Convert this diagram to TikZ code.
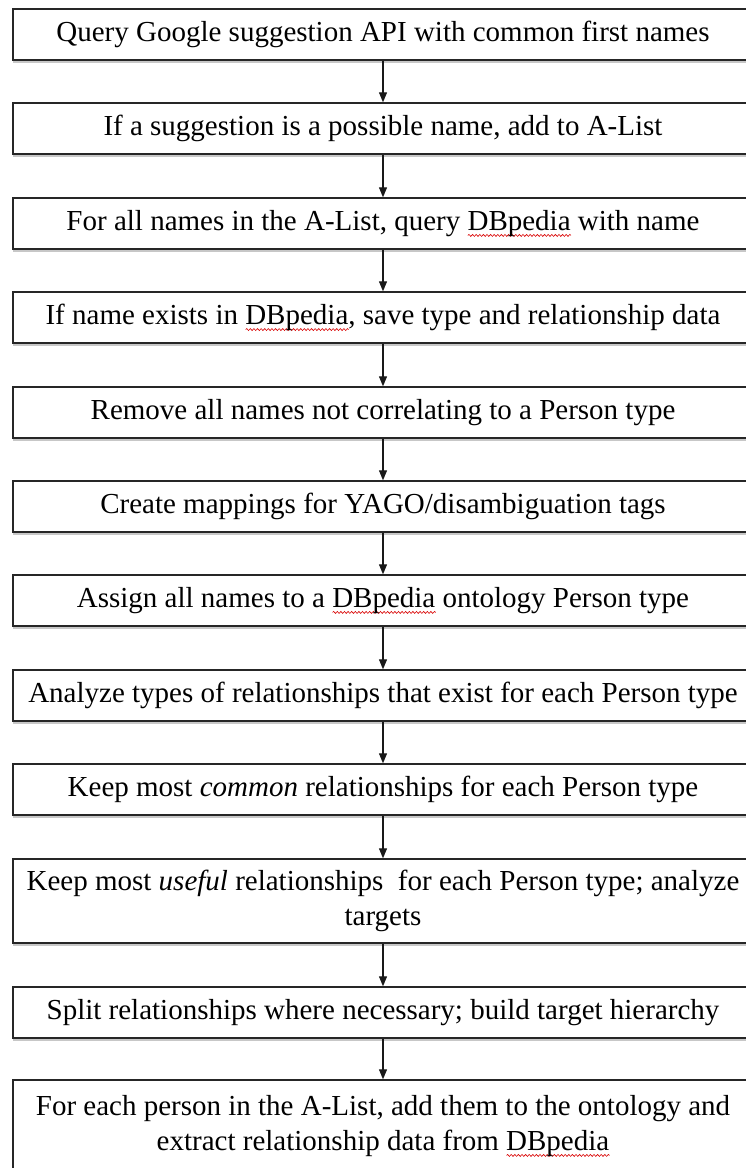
\documentclass[tikz,border=0pt]{standalone}
\usepackage{fontspec}
\setmainfont{Liberation Serif}
\usetikzlibrary{arrows.meta,shadows,decorations.pathmorphing}
\newsavebox\spbox
\newcommand\spellerr[1]{\sbox\spbox{#1}\rlap{\tikz[baseline=0pt]\draw[red!85!black, line width=0.6pt, decorate, decoration={snake, amplitude=1pt, segment length=3.6pt}] (0pt,-5pt) -- (\wd\spbox,-5pt);}\usebox\spbox}
\begin{document}
\begin{tikzpicture}[x=1pt,y=-1pt,
  stepbox/.style={draw=black!85, line width=1.4pt, fill=white, minimum width=740pt,
    inner sep=0pt, align=center, font=\fontsize{29}{35}\selectfont,
    drop shadow={shadow xshift=0pt, shadow yshift=-2.5pt, fill=black!22, opacity=1}},
  flow/.style={draw=black!90, line width=1.2pt, -{Triangle[length=10pt,width=8pt]}}]
\useasboundingbox (0,0) rectangle (746,1168);
\fill[white] (0,0) rectangle (746,1168);
\node[stepbox, minimum height=51pt] (b1) at (383,34.5) {Query Google suggestion API with common first names};
\node[stepbox, minimum height=51pt] (b2) at (383,128.5) {If a suggestion is a possible name, add to A-List};
\node[stepbox, minimum height=51pt] (b3) at (383,223.5) {For all names in the A-List, query \spellerr{DBpedia} with name};
\node[stepbox, minimum height=51pt] (b4) at (383,317.5) {If name exists in \spellerr{DBpedia}, save type and relationship data};
\node[stepbox, minimum height=51pt] (b5) at (383,412.5) {Remove all names not correlating to a Person type};
\node[stepbox, minimum height=51pt] (b6) at (383,506.5) {Create mappings for YAGO/disambiguation tags};
\node[stepbox, minimum height=51pt] (b7) at (383,600.5) {Assign all names to a \spellerr{DBpedia} ontology Person type};
\node[stepbox, minimum height=51pt] (b8) at (383,695.5) {Analyze types of relationships that exist for each Person type};
\node[stepbox, minimum height=51pt] (b9) at (383,789.5) {Keep most \textit{common} relationships for each Person type};
\node[stepbox, minimum height=84pt] (b10) at (383,901) {Keep most \textit{useful} relationships\hspace{0.25em} for each Person type; analyze\\targets};
\node[stepbox, minimum height=51pt] (b11) at (383,1012.5) {Split relationships where necessary; build target hierarchy};
\node[stepbox, minimum height=92pt] (b12) at (383,1126) {For each person in the A-List, add them to the ontology and\\extract relationship data from \spellerr{DBpedia}};
\draw[flow] (b1) -- (b2);
\draw[flow] (b2) -- (b3);
\draw[flow] (b3) -- (b4);
\draw[flow] (b4) -- (b5);
\draw[flow] (b5) -- (b6);
\draw[flow] (b6) -- (b7);
\draw[flow] (b7) -- (b8);
\draw[flow] (b8) -- (b9);
\draw[flow] (b9) -- (b10);
\draw[flow] (b10) -- (b11);
\draw[flow] (b11) -- (b12);
\end{tikzpicture}
\end{document}
